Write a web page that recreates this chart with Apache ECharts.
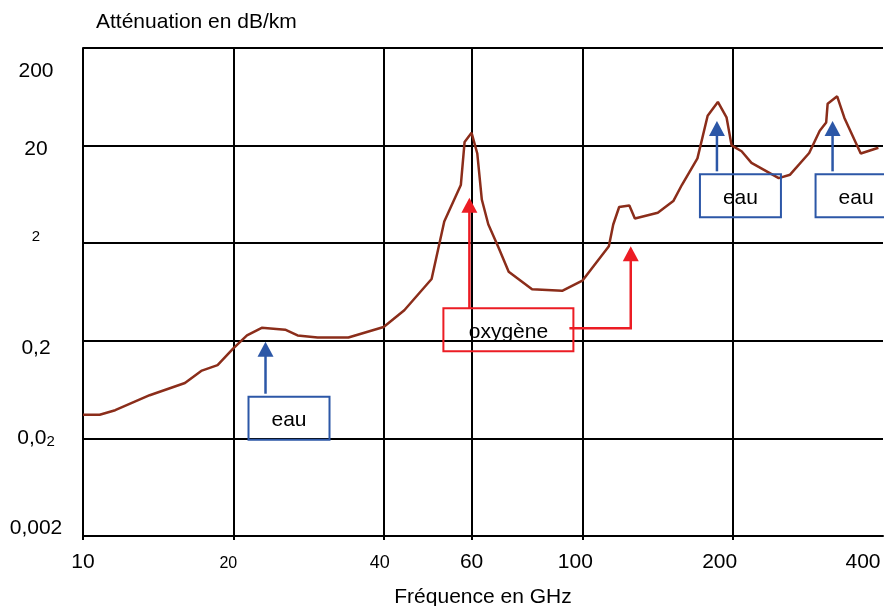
<!DOCTYPE html>
<html>
<head>
<meta charset="utf-8">
<title>Atténuation en dB/km</title>
<script src="https://cdn.jsdelivr.net/npm/echarts@6/dist/echarts.min.js"></script>
</head>
<body style="margin:0;background:#fff">
<div id="main" style="width:884px;height:606px;"></div>
<script type="text/javascript">
// courbe : fréquence (GHz) / atténuation (dB/km)
var freq = [10, 10.8, 11.6, 13.6, 16, 17.3, 18.6, 20, 21.3, 22.8,
    25.4, 26.9, 29.5, 34, 40, 44, 49.9, 52.9, 57.1, 58.1,
    60, 61.6, 62.9, 64.8, 67.9, 71.2, 79.3, 91.1, 100, 113,
    115.3, 118.5, 124.2, 127.4, 141.6, 152.1, 158.3, 170, 178.2, 186.8,
    194.4, 199, 208.4, 218.1, 247.3, 260.6, 284.6, 298.8, 307.8, 309.9,
    323.8, 334.8, 361, 391.6];
var atten = [0.035, 0.035, 0.0389, 0.0554, 0.0739, 0.099, 0.1125, 0.167, 0.227, 0.272,
    0.26, 0.227, 0.216, 0.216, 0.277, 0.411, 0.86, 3.34, 7.89, 21.8,
    27.05, 16.6, 5.6, 3.13, 1.82, 1.02, 0.675, 0.65, 0.826, 1.865,
    3.11, 4.7, 4.87, 3.58, 4.11, 5.4, 7.94, 14.8, 40.5, 56,
    39, 20.1, 17.5, 13.3, 9.28, 10.07, 16.8, 28.4, 34.5, 53.8,
    64, 38.4, 16.6, 19];

// graduations
var xGrid = [10, 20, 40, 60, 100, 200];
var xTicks = [10, 20, 40, 60, 100, 200, 400];
var xTickLabels = ['10', '20', '40', '60', '100', '200', '400'];
var yTicks = [0.002, 0.02, 0.2, 2, 20, 200];
var yTickLabels = ['0,002', '0,02', '0,2', '2', '20', '200'];

// raies d'absorption signalées par des flèches
var eauFreq = [23.2, 186, 317];
var eauHaut = [0.195, 35.8, 35.8];
var eauBas = [0.0574, 10.9, 10.9];
var oxyFreq = [59.4, 125];
var oxyHaut = [5.83, 1.865];
var oxyBas = 0.431;

var font = "'Liberation Sans', Arial, sans-serif";
var noir = '#000';
var bleu = '#2C57A7';
var rouge = '#EC1C24';

var myChart = echarts.init(document.getElementById('main'));

function nearest(list, v) {
    var best = 0;
    for (var i = 1; i < list.length; i++) {
        if (Math.abs(Math.log(list[i] / v)) < Math.abs(Math.log(list[best] / v))) best = i;
    }
    return best;
}

function tok(o) {
    o.fontFamily = font;
    o.color = noir;
    if (!o.fontSize) o.fontSize = 21;
    return o;
}

var option = {
    animation: false,
    grid: {left: 83, right: 1, top: 48, bottom: 70, outerBoundsMode: 'none', containLabel: false},
    xAxis: {
        type: 'log',
        logBase: 10,
        min: 10,
        max: 400,
        name: 'Fréquence en GHz',
        nameLocation: 'middle',
        nameGap: 61,
        nameTextStyle: {fontFamily: font, fontSize: 21, color: noir, verticalAlign: 'middle'},
        axisLine: {show: true, lineStyle: {color: noir, width: 2}},
        axisTick: {show: true, customValues: xGrid, length: 4, lineStyle: {color: noir, width: 2}},
        minorTick: {show: false},
        splitLine: {show: true, lineStyle: {color: noir, width: 2}},
        axisLabel: {
            customValues: xTicks,
            margin: 16,
            formatter: function (v) {
                var i = nearest(xTicks, v);
                return '{x' + i + '|' + xTickLabels[i] + '}';
            },
            rich: {
                x0: tok({}),
                x1: tok({fontSize: 16, padding: [4, 10, 0, 0]}),
                x2: tok({fontSize: 18, padding: [2, 8, 0, 0]}),
                x3: tok({}),
                x4: tok({padding: [0, 14, 0, 0]}),
                x5: tok({padding: [0, 26, 0, 0]}),
                x6: tok({padding: [0, 40, 0, 0]})
            }
        }
    },
    yAxis: {
        type: 'log',
        logBase: 10,
        min: 0.002,
        max: 200,
        name: 'Atténuation en dB/km',
        nameLocation: 'end',
        nameGap: 26,
        nameTextStyle: {fontFamily: font, fontSize: 21, color: noir, align: 'left', verticalAlign: 'middle', padding: [0, 0, 0, 13]},
        axisLine: {show: true, lineStyle: {color: noir, width: 2}},
        axisTick: {show: false, customValues: yTicks},
        minorTick: {show: false},
        splitLine: {show: true, lineStyle: {color: noir, width: 2}},
        axisLabel: {
            customValues: yTicks,
            align: 'center',
            margin: 47,
            formatter: function (v) {
                var i = nearest(yTicks, v);
                if (i === 1) return '{y1|0,0}{ys|2}';
                return '{y' + i + '|' + yTickLabels[i] + '}';
            },
            rich: {
                y0: tok({padding: [0, 0, 16, 0]}),
                y1: tok({}),
                ys: tok({fontSize: 15, verticalAlign: 'bottom'}),
                y2: tok({padding: [14, 0, 0, 0]}),
                y3: tok({fontSize: 15, padding: [0, 0, 12, 0]}),
                y4: tok({padding: [8, 0, 0, 0]}),
                y5: tok({padding: [46, 0, 0, 0]})
            }
        }
    },
    series: [{
        type: 'line',
        data: freq.map(function (f, i) { return [f, atten[i]]; }),
        symbol: 'none',
        lineStyle: {color: '#8B2D1A', width: 2.5},
        z: 3
    }]
};
myChart.setOption(option);

// flèches et étiquettes, placées à partir des coordonnées des données
function pt(f, a) {
    return myChart.convertToPixel({gridIndex: 0}, [f, a]);
}

function fleche(points, color) {
    var tip = points[points.length - 1];
    var shaft = points.slice(0, points.length - 1).concat([[tip[0], tip[1] + 12]]);
    return [{
        type: 'polyline', z: 10,
        shape: {points: shaft},
        style: {stroke: color, lineWidth: 2.5, fill: null}
    }, {
        type: 'polygon', z: 10,
        shape: {points: [[tip[0], tip[1]], [tip[0] - 8, tip[1] + 15], [tip[0] + 8, tip[1] + 15]]},
        style: {fill: color}
    }];
}

function boite(x, y, w, h, color, txt) {
    return [{
        type: 'rect', z: 10,
        shape: {x: x, y: y, width: w, height: h},
        style: {stroke: color, lineWidth: 2, fill: null}
    }, {
        type: 'text', z: 11,
        x: x + w / 2, y: y + h / 2 + 2,
        style: {text: txt, fill: noir, font: '21px ' + font, align: 'center', verticalAlign: 'middle'}
    }];
}

var elems = [];
for (var i = 0; i < eauFreq.length; i++) {
    var haut = pt(eauFreq[i], eauHaut[i]);
    var bas = pt(eauFreq[i], eauBas[i]);
    elems = elems.concat(fleche([bas, haut], bleu));
    elems = elems.concat(boite(bas[0] - 17, bas[1] + 3, 81, 43, bleu, 'eau'));
}

var o1 = pt(oxyFreq[0], oxyBas);
var o1h = pt(oxyFreq[0], oxyHaut[0]);
var bx = o1[0] - 26, by = o1[1];
elems = elems.concat(boite(bx, by, 130, 43, rouge, 'oxygène'));
elems = elems.concat(fleche([o1, o1h], rouge));
var o2h = pt(oxyFreq[1], oxyHaut[1]);
elems = elems.concat(fleche([[bx + 126, by + 20], [o2h[0], by + 20], o2h], rouge));

myChart.setOption({graphic: {elements: elems}});
</script>
</body>
</html>
